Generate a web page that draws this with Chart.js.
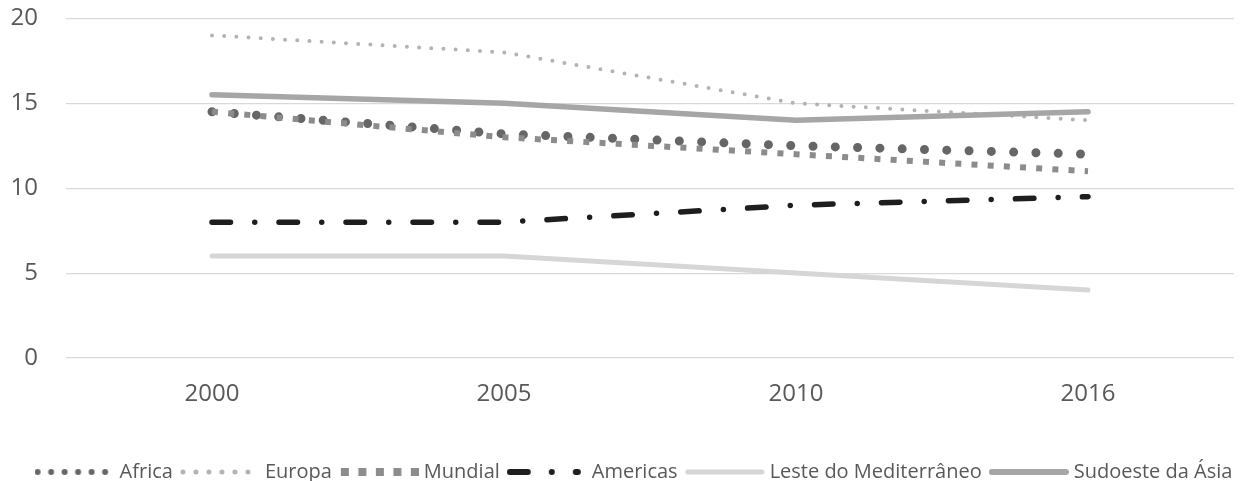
<!DOCTYPE html>
<html>
<head>
<meta charset="utf-8">
<script src="https://cdn.jsdelivr.net/npm/chart.js@4.4.0/dist/chart.umd.min.js"></script>
<style>
html, body { margin: 0; padding: 0; background: #fff; overflow: hidden; }
#wrap { width: 1250px; height: 481px; }
</style>
</head>
<body>
<div id="wrap"><canvas id="grafico"></canvas></div>
<script>
// Dados
const anos = ['2000', '2005', '2010', '2016'];
const africa = [14.5, 13.2, 12.5, 12];
const europa = [19, 18, 15, 14];
const mundial = [14.5, 13, 12, 11];
const americas = [8, 8, 9, 9.5];
const leste = [6, 6, 5, 4];
const sudoeste = [15.5, 15, 14, 14.5];
const yTicks = [0, 5, 10, 15, 20];

const fonte = '"Open Sans", "Noto Sans", sans-serif';
const corTexto = '#595959';

// Amostra da legenda desenhada num canvas pequeno
function amostra(cor, espessura, tracejado, ponta, x0, x1) {
    const c = document.createElement('canvas');
    c.width = 80;
    c.height = 14;
    const g = c.getContext('2d');
    g.strokeStyle = cor;
    g.lineWidth = espessura;
    g.lineCap = ponta;
    g.setLineDash(tracejado);
    g.beginPath();
    g.moveTo(x0, 7);
    g.lineTo(x1, 7);
    g.stroke();
    return c;
}

const amostras = [
    amostra('#666666', 6, [0, 13.5], 'round', 3, 77),
    amostra('#b3b3b3', 5, [0, 13], 'round', 3, 77),
    amostra('#8c8c8c', 8, [8, 9.5], 'butt', 2, 80),
    amostra('#1e1e1e', 6, [18, 24, 0, 24], 'round', 3, 71),
    amostra('#d6d6d6', 5, [], 'round', 3, 77),
    amostra('#a6a6a6', 6, [], 'round', 3, 77)
];

function serie(label, data, cor, largura, tracejado, ponta, ordem) {
    return {
        label: label,
        data: data,
        borderColor: cor,
        backgroundColor: cor,
        borderWidth: largura,
        borderDash: tracejado,
        borderCapStyle: ponta,
        borderJoinStyle: 'round',
        pointRadius: 0,
        tension: 0,
        fill: false,
        order: ordem
    };
}

// Legenda um pouco deslocada para a direita, como no original
const deslocaLegenda = {
    id: 'deslocaLegenda',
    afterLayout(chart) {
        chart.legend.left += 19;
        chart.legend.right += 19;
    }
};

new Chart(document.getElementById('grafico'), {
    type: 'line',
    data: {
        labels: anos,
        datasets: [
            serie('Africa', africa, '#666666', 9, [0, 22.3], 'round', 5),
            serie('Europa', europa, '#b3b3b3', 4, [0, 12.2], 'round', 4),
            serie('Mundial', mundial, '#8c8c8c', 6, [6, 10.2], 'butt', 3),
            serie('Americas', americas, '#1e1e1e', 5.5, [18.5, 24.25, 0, 24.25], 'round', 2),
            serie('Leste do Mediterrâneo', leste, '#d6d6d6', 5, [], 'round', 1),
            serie('Sudoeste da Ásia', sudoeste, '#a6a6a6', 5.5, [], 'round', 0)
        ]
    },
    plugins: [deslocaLegenda],
    options: {
        responsive: true,
        maintainAspectRatio: false,
        animation: false,
        layout: { padding: { top: 4, right: 16, bottom: -11, left: 0 } },
        plugins: {
            tooltip: { enabled: false },
            legend: {
                position: 'bottom',
                labels: {
                    usePointStyle: true,
                    pointStyleWidth: 70,
                    boxHeight: 14,
                    padding: 12,
                    color: corTexto,
                    font: { family: fonte, size: 20 },
                    sort: (a, b) => a.datasetIndex - b.datasetIndex,
                    generateLabels: (chart) => {
                        const itens = Chart.defaults.plugins.legend.labels.generateLabels(chart);
                        itens.forEach(item => { item.pointStyle = amostras[item.datasetIndex]; });
                        return itens;
                    }
                }
            }
        },
        scales: {
            x: {
                offset: true,
                grid: { display: false },
                border: { display: false },
                ticks: { color: corTexto, font: { family: fonte, size: 24 }, padding: 14 },
                afterFit: (s) => { s.height = 92; }
            },
            y: {
                min: 0,
                max: 20,
                border: { display: false },
                grid: { color: '#d9d9d9', lineWidth: 1.2, drawTicks: true, tickLength: 24, tickColor: 'rgba(0,0,0,0)' },
                ticks: { color: corTexto, font: { family: fonte, size: 24 }, padding: 4 },
                afterBuildTicks: (s) => { s.ticks = yTicks.map(v => ({ value: v })); },
                afterFit: (s) => { s.width = 66; }
            }
        }
    }
});
</script>
</body>
</html>
